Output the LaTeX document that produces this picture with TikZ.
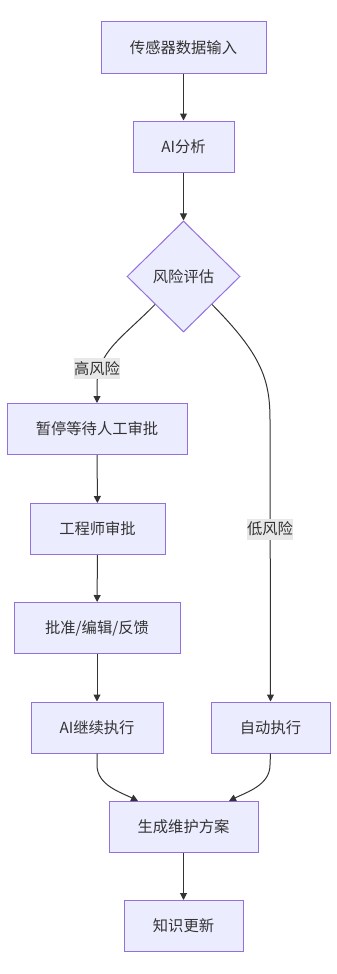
\documentclass[tikz,border=0pt]{standalone}
\usepackage{fontspec}
\newfontfamily\cjk{Noto Sans CJK SC}
\usetikzlibrary{shapes.geometric,arrows.meta,calc}
\definecolor{boxfill}{HTML}{ECECFF}
\definecolor{boxline}{HTML}{9370DB}
\definecolor{edgeline}{HTML}{333333}
\definecolor{lblfill}{HTML}{E8E8E8}

\begin{document}
\begin{tikzpicture}[x=1pt, y=-1pt, >={Triangle[length=7pt,width=7pt]},
		box/.style={draw=boxline, fill=boxfill, line width=1pt, inner sep=0pt,
			minimum height=51pt, text=edgeline, font={\cjk\fontsize{15.3}{18}\selectfont}},
		decision/.style={box, diamond, minimum width=113pt, minimum height=111pt},
		flow/.style={->, draw=edgeline, line width=1pt},
		lbl/.style={fill=lblfill, inner xsep=0.5pt, inner ysep=0pt, minimum height=21pt,
			text=edgeline, font={\cjk\fontsize{15.3}{18}\selectfont}}]
		% 1. Canvas
		\useasboundingbox (0,0) rectangle (337,974);

		% 2. Main column
		\node[box, minimum width=165pt] (input) at (183.5,47.5) {传感器数据输入};
		\node[box, minimum width=101pt] (analyse) at (183.5,146.5) {AI分析};
		\node[decision] (risk) at (183.5,276.5) {风险评估};

		% 3. High risk branch
		\node[box, minimum width=180pt] (pause) at (97,429) {暂停等待人工审批};
		\node[box, minimum width=135pt] (engineer) at (97.5,529) {工程师审批};
		\node[box, minimum width=166pt] (approve) at (97,628) {批准/编辑/反馈};
		\node[box, minimum width=132pt] (aigo) at (97,727.5) {AI继续执行};

		% 4. Low risk branch
		\node[box, minimum width=119pt] (auto) at (270.5,727.5) {自动执行};

		% 5. Output
		\node[box, minimum width=149pt] (plan) at (183.5,827) {生成维护方案};
		\node[box, minimum width=119pt] (knowledge) at (183.5,926) {知识更新};

		% 6. Connectors
		\draw[flow] (input) -- (analyse);
		\draw[flow] (analyse) -- (risk);
		\draw[flow] (risk.south west) .. controls (122,338) and (97,352) .. (97,385) -- (pause.north);
		\draw[flow] (risk.south east) .. controls (262,355) and (270,380) .. (270,420) -- (auto.north);
		\draw[flow] (pause) -- (engineer);
		\draw[flow] (engineer) -- (approve);
		\draw[flow] (approve.south) -- (aigo.north);
		\draw[flow] (aigo.south) -- (97,765) .. controls (97,785) and (120,792) .. ($(plan.north)+(-45.5,0)$);
		\draw[flow] (auto.south) -- (270,765) .. controls (270,785) and (247,792) .. ($(plan.north)+(45.5,0)$);
		\draw[flow] (plan) -- (knowledge);

		% 7. Edge labels
		\node[lbl] (high) at (97,368.5) {高风险};
		\node[lbl] (low) at (270,529) {低风险};
	\end{tikzpicture}
\end{document}
